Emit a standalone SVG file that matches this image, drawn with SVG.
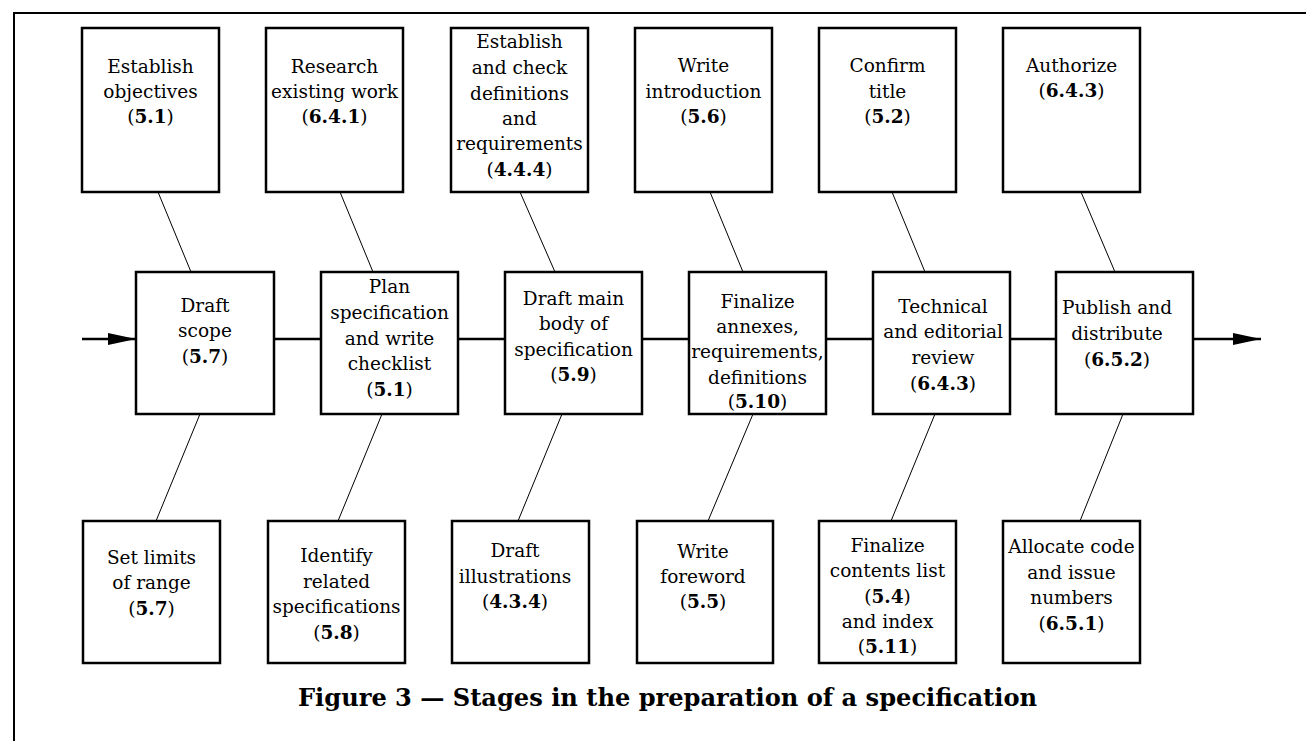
<svg xmlns="http://www.w3.org/2000/svg" width="1306" height="741" viewBox="0 0 1306 741">
<style>
.box{fill:#fff;stroke:#000;stroke-width:2.5}
.t{font-family:"DejaVu Serif","Liberation Serif",serif;font-size:18.5px;fill:#000;text-anchor:middle}
.b{font-weight:bold}
.c{stroke:#000;stroke-width:1;fill:none}
.m{stroke:#000;stroke-width:2.5;fill:none}
.frame{stroke:#000;stroke-width:2;fill:none}
.cap{font-family:"DejaVu Serif","Liberation Serif",serif;font-size:25px;font-weight:bold;fill:#000}
</style>
<defs>
<marker id="ah" markerWidth="28" markerHeight="12" refX="28" refY="6" orient="auto" markerUnits="userSpaceOnUse">
<path d="M0,0 L28,6 L0,12 Z" fill="#000"/>
</marker>
</defs>
<rect width="1306" height="741" fill="#fff"/>
<path class="frame" d="M14,741 L14,13 L1306,13"/>

<g id="connectors">
<line class="m" x1="82" y1="339" x2="136" y2="339" marker-end="url(#ah)"/>
<line class="m" x1="274" y1="339" x2="321" y2="339"/>
<line class="m" x1="458" y1="339" x2="505" y2="339"/>
<line class="m" x1="642" y1="339" x2="689" y2="339"/>
<line class="m" x1="826" y1="339" x2="873" y2="339"/>
<line class="m" x1="1010" y1="339" x2="1056" y2="339"/>
<line class="m" x1="1193" y1="339" x2="1261" y2="339" marker-end="url(#ah)"/>
<line class="c" x1="158" y1="192" x2="191" y2="272"/>
<line class="c" x1="340" y1="192" x2="373" y2="272"/>
<line class="c" x1="520" y1="192" x2="555" y2="272"/>
<line class="c" x1="710" y1="192" x2="743" y2="272"/>
<line class="c" x1="892" y1="192" x2="925" y2="272"/>
<line class="c" x1="1081" y1="192" x2="1115" y2="272"/>
<line class="c" x1="200" y1="414" x2="156" y2="521"/>
<line class="c" x1="382" y1="414" x2="338" y2="521"/>
<line class="c" x1="562" y1="414" x2="518" y2="521"/>
<line class="c" x1="753" y1="414" x2="708" y2="521"/>
<line class="c" x1="935" y1="414" x2="891" y2="521"/>
<line class="c" x1="1123" y1="414" x2="1080" y2="521"/>
</g>

<g id="top1"><rect class="box" x="82" y="28" width="137" height="164"/>
<text class="t" x="150.5" y="73">Establish</text><text class="t" x="150.5" y="98">objectives</text><text class="t" x="150.5" y="123">(<tspan class="b">5.1</tspan>)</text></g>
<g id="top2"><rect class="box" x="266" y="28" width="137" height="164"/>
<text class="t" x="334.5" y="73">Research</text><text class="t" x="334.5" y="98">existing work</text><text class="t" x="334.5" y="123">(<tspan class="b">6.4.1</tspan>)</text></g>
<g id="top3"><rect class="box" x="451" y="28" width="137" height="164"/>
<text class="t" x="519.5" y="48">Establish</text><text class="t" x="519.5" y="74">and check</text><text class="t" x="519.5" y="100">definitions</text><text class="t" x="519.5" y="125">and</text><text class="t" x="519.5" y="150">requirements</text><text class="t" x="519.5" y="176">(<tspan class="b">4.4.4</tspan>)</text></g>
<g id="top4"><rect class="box" x="635" y="28" width="137" height="164"/>
<text class="t" x="703.5" y="72">Write</text><text class="t" x="703.5" y="98">introduction</text><text class="t" x="703.5" y="123">(<tspan class="b">5.6</tspan>)</text></g>
<g id="top5"><rect class="box" x="819" y="28" width="137" height="164"/>
<text class="t" x="887.5" y="72">Confirm</text><text class="t" x="887.5" y="98">title</text><text class="t" x="887.5" y="123">(<tspan class="b">5.2</tspan>)</text></g>
<g id="top6"><rect class="box" x="1003" y="28" width="137" height="164"/>
<text class="t" x="1071.5" y="72">Authorize</text><text class="t" x="1071.5" y="97">(<tspan class="b">6.4.3</tspan>)</text></g>

<g id="mid1"><rect class="box" x="136" y="272" width="138" height="142"/>
<text class="t" x="205" y="312">Draft</text><text class="t" x="205" y="337">scope</text><text class="t" x="205" y="363">(<tspan class="b">5.7</tspan>)</text></g>
<g id="mid2"><rect class="box" x="321" y="272" width="137" height="142"/>
<text class="t" x="389.5" y="293">Plan</text><text class="t" x="389.5" y="319">specification</text><text class="t" x="389.5" y="345">and write</text><text class="t" x="389.5" y="370">checklist</text><text class="t" x="389.5" y="396">(<tspan class="b">5.1</tspan>)</text></g>
<g id="mid3"><rect class="box" x="505" y="272" width="137" height="142"/>
<text class="t" x="573.5" y="305">Draft main</text><text class="t" x="573.5" y="330">body of</text><text class="t" x="573.5" y="356">specification</text><text class="t" x="573.5" y="381">(<tspan class="b">5.9</tspan>)</text></g>
<g id="mid4"><rect class="box" x="689" y="272" width="137" height="142"/>
<text class="t" x="757.5" y="308">Finalize</text><text class="t" x="757.5" y="333">annexes,</text><text class="t" x="757.5" y="358">requirements,</text><text class="t" x="757.5" y="384">definitions</text><text class="t" x="757.5" y="408">(<tspan class="b">5.10</tspan>)</text></g>
<g id="mid5"><rect class="box" x="873" y="272" width="137" height="142"/>
<text class="t" x="943" y="313">Technical</text><text class="t" x="943" y="338">and editorial</text><text class="t" x="943" y="364">review</text><text class="t" x="943" y="390">(<tspan class="b">6.4.3</tspan>)</text></g>
<g id="mid6"><rect class="box" x="1056" y="272" width="137" height="142"/>
<text class="t" x="1117" y="314">Publish and</text><text class="t" x="1117" y="340">distribute</text><text class="t" x="1117" y="366">(<tspan class="b">6.5.2</tspan>)</text></g>

<g id="bot1"><rect class="box" x="83" y="521" width="137" height="142"/>
<text class="t" x="151.5" y="564">Set limits</text><text class="t" x="151.5" y="589">of range</text><text class="t" x="151.5" y="615">(<tspan class="b">5.7</tspan>)</text></g>
<g id="bot2"><rect class="box" x="268" y="521" width="137" height="142"/>
<text class="t" x="336.5" y="562">Identify</text><text class="t" x="336.5" y="588">related</text><text class="t" x="336.5" y="613">specifications</text><text class="t" x="336.5" y="639">(<tspan class="b">5.8</tspan>)</text></g>
<g id="bot3"><rect class="box" x="452" y="521" width="137" height="142"/>
<text class="t" x="515" y="557">Draft</text><text class="t" x="515" y="583">illustrations</text><text class="t" x="515" y="608">(<tspan class="b">4.3.4</tspan>)</text></g>
<g id="bot4"><rect class="box" x="637" y="521" width="136" height="142"/>
<text class="t" x="703" y="558">Write</text><text class="t" x="703" y="583">foreword</text><text class="t" x="703" y="608">(<tspan class="b">5.5</tspan>)</text></g>
<g id="bot5"><rect class="box" x="819" y="521" width="137" height="142"/>
<text class="t" x="887.5" y="552">Finalize</text><text class="t" x="887.5" y="577">contents list</text><text class="t" x="887.5" y="603">(<tspan class="b">5.4</tspan>)</text><text class="t" x="887.5" y="628">and index</text><text class="t" x="887.5" y="653">(<tspan class="b">5.11</tspan>)</text></g>
<g id="bot6"><rect class="box" x="1003" y="521" width="137" height="142"/>
<text class="t" x="1071.5" y="553">Allocate code</text><text class="t" x="1071.5" y="579">and issue</text><text class="t" x="1071.5" y="604">numbers</text><text class="t" x="1071.5" y="630">(<tspan class="b">6.5.1</tspan>)</text></g>

<text class="cap" x="298" y="706" textLength="739" lengthAdjust="spacingAndGlyphs">Figure 3 — Stages in the preparation of a specification</text>
</svg>
